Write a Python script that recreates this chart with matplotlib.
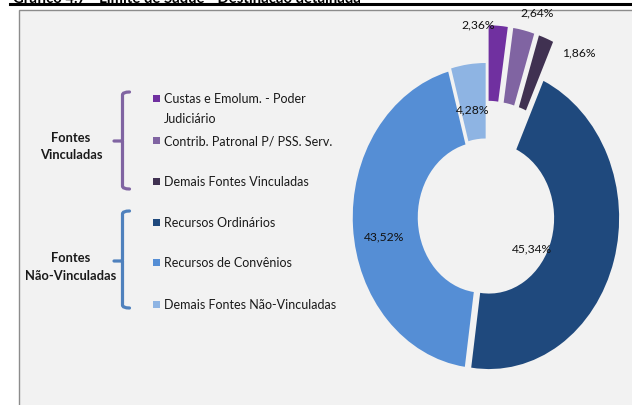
import numpy as np
import matplotlib.pyplot as plt
from matplotlib.patches import Rectangle, PathPatch
from matplotlib.path import Path
from matplotlib.lines import Line2D

# data
fontes = ['Custas e Emolum. - Poder\nJudiciário', 'Contrib. Patronal P/ PSS. Serv.',
          'Demais Fontes Vinculadas', 'Recursos Ordinários',
          'Recursos de Convênios', 'Demais Fontes Não-Vinculadas']
percentuais = [2.36, 2.64, 1.86, 45.34, 43.52, 4.28]
cores = ['#7030A0', '#8064A2', '#403151', '#1F497D', '#558ED5', '#8EB4E3']
grupos = ['Fontes\nVinculadas', 'Fontes\nNão-Vinculadas']
titulo = 'Gráfico 4.7 - Limite de Saque - Destinação detalhada'

W, H = 632, 406
fig = plt.figure(figsize=(W / 100, H / 100), dpi=100)
fig.patch.set_facecolor('white')
FONT = 'Lato'


def px(x, y):
    # pixel position (from top-left) -> figure fraction
    return x / W, 1 - y / H


# title strip (cut off at top) and rule
fig.text(*px(13, 2.5), titulo, fontsize=10.7, fontweight='bold', family=FONT, va='baseline')
fig.add_artist(Line2D([10 / W, 1], [1 - 5 / H] * 2, color='black', lw=2.2))

# chart panel
fig.patches.append(Rectangle(px(19, 420), 700 / W, 409 / H, transform=fig.transFigure,
                             facecolor='#F2F2F2', edgecolor='#8C8C8C', lw=1, zorder=-1))

# donut, stretched a bit vertically like the original
cx, cy, rx, ry = 486, 218, 130, 151
ax = fig.add_axes([0, 0, 1, 1])
explode = [0.27, 0.27, 0.27, 0.025, 0.025, 0.02]
wedges, _ = ax.pie(percentuais, colors=cores, startangle=90, counterclock=False,
                   explode=explode, radius=1, wedgeprops=dict(width=0.5, linewidth=0))
ax.set_aspect('auto')
ax.set_xlim(-cx / rx, (W - cx) / rx)
ax.set_ylim(-(H - cy) / ry, cy / ry)
ax.axis('off')

label_pos = [(-0.058, 1.278), (0.396, 1.358), (0.71, 1.093),
             (0.354, -0.205), (-0.785, -0.126), (-0.104, 0.715)]
for v, (lx, ly) in zip(percentuais, label_pos):
    ax.text(lx, ly, f'{v:.2f}%'.replace('.', ','), ha='center', va='center',
            fontsize=8.7, family=FONT, color='#111111')

# legend with braces
item_y = [99, 141, 182, 223, 263, 305]
for nome, cor, y in zip(fontes, cores, item_y):
    fig.patches.append(Rectangle(px(153, y + 3.5), 7 / W, 7 / H, transform=fig.transFigure,
                                 facecolor=cor, edgecolor='none'))
    for i, linha in enumerate(nome.split('\n')):
        fig.text(*px(164, y + 20 * i), linha, fontsize=9, family=FONT, va='center',
                 color='#1a1a1a')

brace = [(93, 190, 142, '#8064A2'), (212, 309, 262, '#4F81BD')]
for g, (top, bot, mid, cor) in zip(grupos, brace):
    x0, xm, xh = 122.5, 114, 129.5
    verts = [px(xh, top), px(x0, top), px(x0, top + 3),
             px(x0, mid - 1), px(x0, mid), px(xm, mid),
             px(x0, mid), px(x0, mid + 1),
             px(x0, bot - 3), px(x0, bot), px(xh, bot)]
    codes = [Path.MOVETO, Path.CURVE3, Path.CURVE3,
             Path.LINETO, Path.MOVETO, Path.LINETO,
             Path.MOVETO, Path.LINETO,
             Path.LINETO, Path.CURVE3, Path.CURVE3]
    fig.add_artist(PathPatch(Path(verts, codes), transform=fig.transFigure,
                             facecolor='none', edgecolor=cor, lw=2.3, capstyle='round'))
    fig.text(*px(71, mid + 5), g, ha='center', va='center', fontsize=9.3, fontweight='bold',
             family=FONT, linespacing=1.5, color='#1a1a1a')

fig.savefig('out.png', dpi=100)
